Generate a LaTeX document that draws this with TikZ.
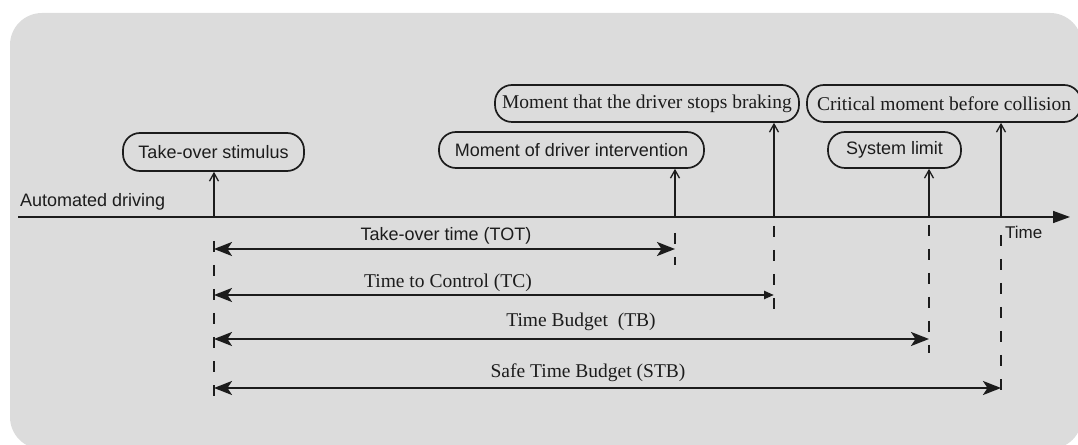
\documentclass[tikz,border=0pt]{standalone}
\usepackage{fontspec}
\setmainfont{Liberation Serif}
\setsansfont{Liberation Sans}
\usetikzlibrary{arrows.meta}
\definecolor{bggray}{RGB}{220,220,220}
\definecolor{ink}{RGB}{28,28,28}
\begin{document}
\begin{tikzpicture}[x=1bp,y=-1bp,
  sansf/.style={font=\fontsize{18bp}{20bp}\selectfont\sffamily},
  seriff/.style={font=\fontsize{19.5bp}{22bp}\selectfont\rmfamily},
  evbox/.style={draw=ink,line width=1.7bp,rounded corners=17bp,inner sep=0pt,text=ink},
  uparrow/.style={draw=ink,line width=1.6bp,-{Straight Barb[length=8bp,width=9bp,line width=1.3bp]}},
  dimarrow/.style={draw=ink,line width=2.3bp,{Stealth[length=18bp,width=14bp,inset=4.5bp]}-{Stealth[length=18bp,width=14bp,inset=4.5bp]}},
  tcarrow/.style={draw=ink,line width=2.3bp,{Stealth[length=18bp,width=14bp,inset=4.5bp]}-{Triangle[length=10bp,width=8bp]}},
  guide/.style={draw=ink,line width=1.4bp,dash pattern=on 11bp off 13bp},
  lbl/.style={text=ink,inner sep=0pt}
]
\useasboundingbox (0,0) rectangle (1078,445);
\begin{scope}
  \clip (0,0) rectangle (1078,445);
  \fill[bggray,rounded corners=32bp] (10,13) rectangle (1082,449);
\end{scope}

% time axis
\coordinate (axL) at (18,217);
\coordinate (axR) at (1070,217);
\draw[ink,line width=1.6bp,-{Triangle[length=17bp,width=12bp]}] (axL) -- (axR);
\node[lbl,sansf,anchor=base west] (autod) at (20,207) {Automated driving};
\node[lbl,font=\fontsize{17bp}{19bp}\selectfont\sffamily,anchor=base west] (timel) at (1005,239) {Time};

% event boxes
\node[evbox,sansf,minimum width=181bp,minimum height=38bp] (stim) at (213.5,152) {Take-over stimulus};
\node[evbox,sansf,minimum width=265bp,minimum height=36bp] (interv) at (571.5,150) {Moment of driver intervention};
\node[evbox,seriff,minimum width=304bp,minimum height=37bp] (brake) at (647,103.5) {Moment that the driver stops braking};
\node[evbox,seriff,minimum width=274bp,minimum height=37bp] (crit) at (944,103.5) {Critical moment before collision};
\node[evbox,sansf,minimum width=133bp,minimum height=36bp] (slim) at (894.5,150) {System limit};

% time points on the axis
\coordinate (p0) at (214,217);
\coordinate (p1) at (675,217);
\coordinate (p2) at (774,217);
\coordinate (p3) at (929,217);
\coordinate (p4) at (1001,217);

\draw[uparrow] (p0) -- (p0 |- stim.south);
\draw[uparrow] (p1) -- (p1 |- interv.south);
\draw[uparrow] (p2) -- (p2 |- brake.south);
\draw[uparrow] (p3) -- (p3 |- slim.south);
\draw[uparrow] (p4) -- (p4 |- crit.south);

% dashed guides
\coordinate (g0a) at (214,241); \coordinate (g0b) at (214,403);
\coordinate (g1a) at (675,233); \coordinate (g1b) at (675,265);
\coordinate (g2a) at (774,226); \coordinate (g2b) at (774,309);
\coordinate (g3a) at (929,225); \coordinate (g3b) at (929,353);
\coordinate (g4a) at (1001,235); \coordinate (g4b) at (1001,403);
\draw[guide] (g0a) -- (g0b);
\draw[guide] (g1a) -- (g1b);
\draw[guide] (g2a) -- (g2b);
\draw[guide] (g3a) -- (g3b);
\draw[guide] (g4a) -- (g4b);

% interval arrows
\coordinate (tot0) at (214,249); \coordinate (tot1) at (675,249);
\coordinate (tc0) at (214,295);  \coordinate (tc1) at (774,295);
\coordinate (tb0) at (214,339);  \coordinate (tb1) at (929,339);
\coordinate (stb0) at (214,388); \coordinate (stb1) at (1001,388);
\draw[dimarrow] (tot0) -- (tot1);
\draw[tcarrow] (tc0) -- (tc1);
\draw[dimarrow] (tb0) -- (tb1);
\draw[dimarrow] (stb0) -- (stb1);

\node[lbl,sansf,anchor=base] (totl) at (446,241) {Take-over time (TOT)};
\node[lbl,seriff,anchor=base] (tcl) at (448,288) {Time to Control (TC)};
\node[lbl,seriff,anchor=base] (tbl) at (581,327) {Time Budget~ (TB)};
\node[lbl,seriff,anchor=base] (stbl) at (588,378) {Safe Time Budget (STB)};
\end{tikzpicture}
\end{document}
